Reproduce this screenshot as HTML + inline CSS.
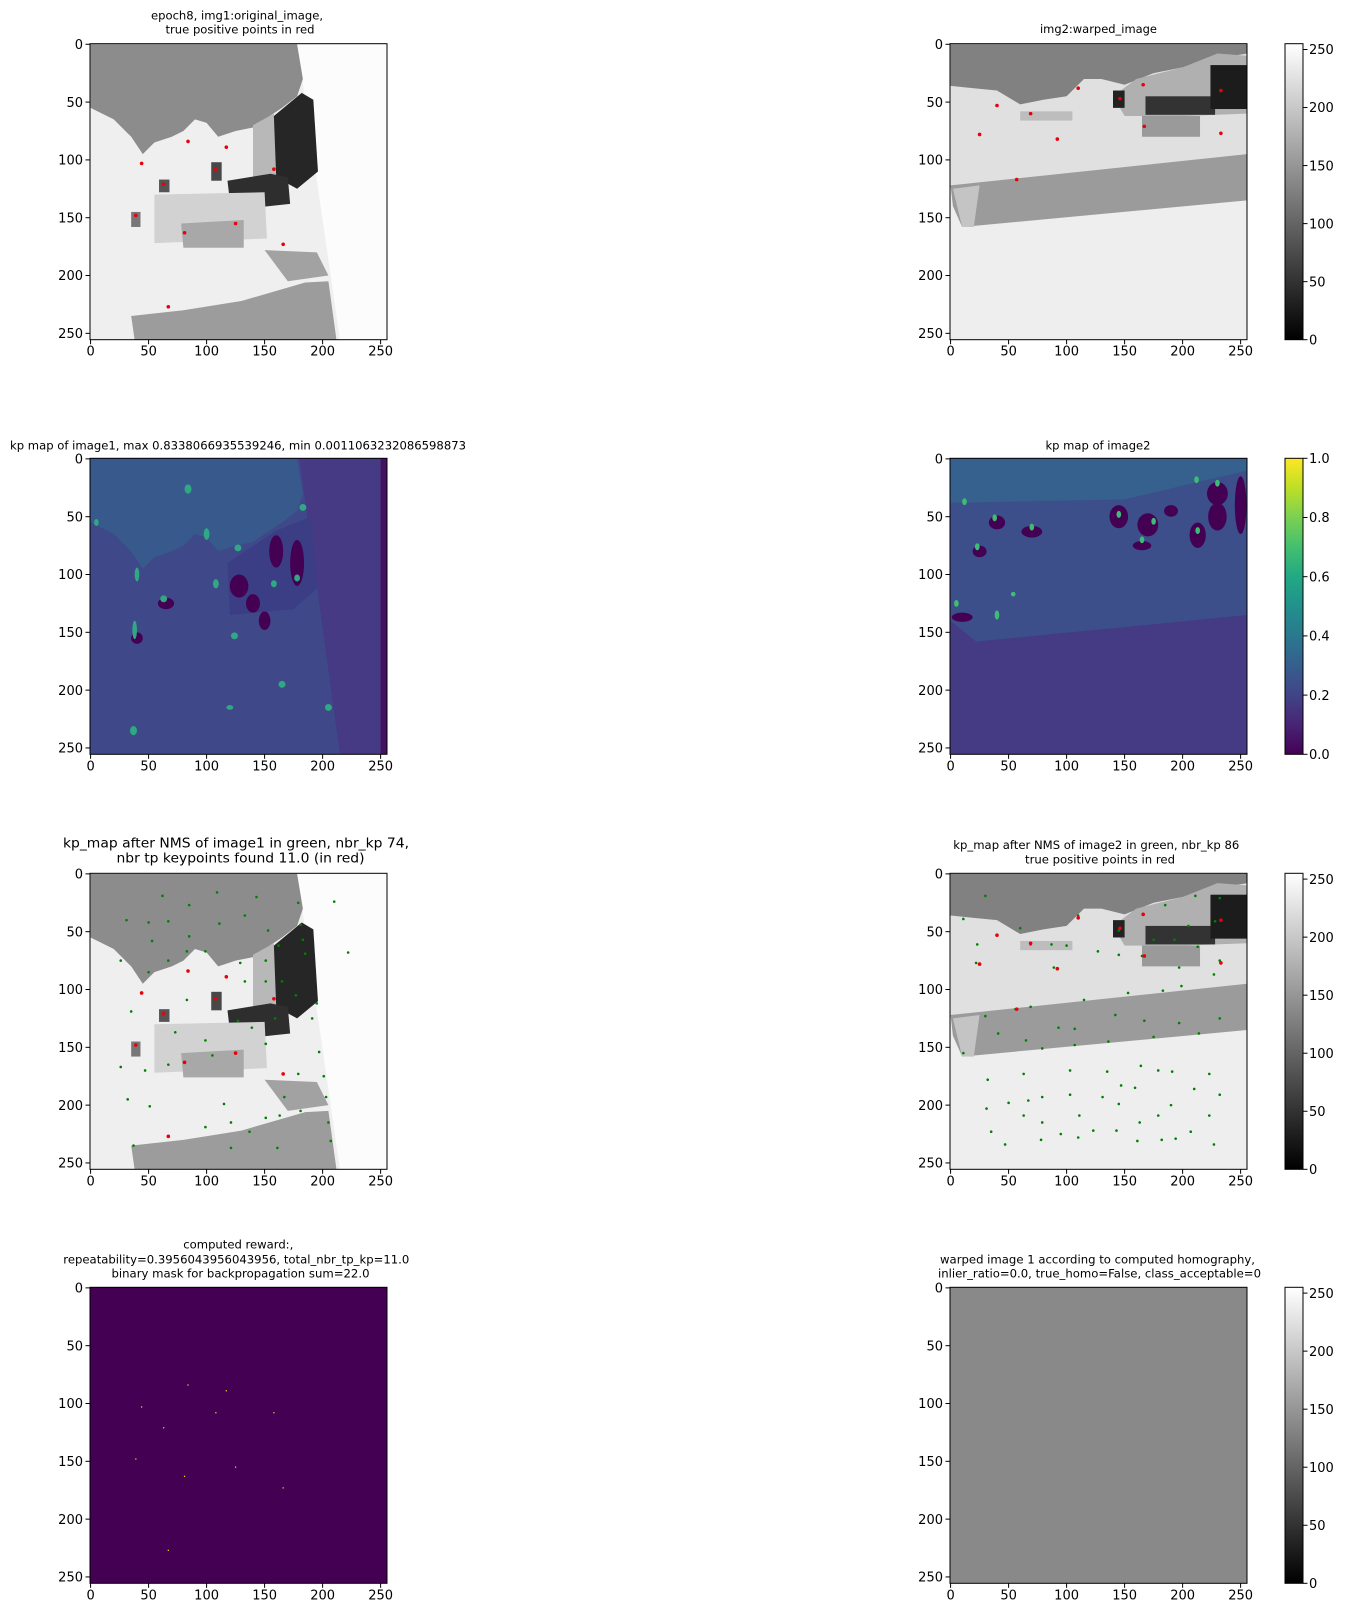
<!DOCTYPE html>
<html><head><meta charset="utf-8"><style>
html,body{margin:0;padding:0;background:#fff;}
svg text{font-family:"DejaVu Sans","Liberation Sans",sans-serif;fill:#000;}
</style></head><body>
<svg id="fig" xmlns="http://www.w3.org/2000/svg" width="1345" height="1617" viewBox="0 0 1345 1617">
<defs>
<linearGradient id="grayGrad" x1="0" y1="1" x2="0" y2="0"><stop offset="0" stop-color="#000"/><stop offset="1" stop-color="#fff"/></linearGradient>
<linearGradient id="virGrad" x1="0" y1="1" x2="0" y2="0">
<stop offset="0" stop-color="#440154"/><stop offset="0.1" stop-color="#482475"/><stop offset="0.2" stop-color="#414487"/><stop offset="0.3" stop-color="#355f8d"/><stop offset="0.4" stop-color="#2a788e"/><stop offset="0.5" stop-color="#21918c"/><stop offset="0.6" stop-color="#22a884"/><stop offset="0.7" stop-color="#44bf70"/><stop offset="0.8" stop-color="#7ad151"/><stop offset="0.9" stop-color="#bddf26"/><stop offset="1" stop-color="#fde725"/></linearGradient>
<symbol id="scene1" viewBox="-0.5 -0.5 256 256" preserveAspectRatio="none">
<rect x="-0.5" y="-0.5" width="256" height="256" fill="#efefef"/>
<polygon points="178,-0.5 256,-0.5 256,256 215,256" fill="#fcfcfc"/>
<polygon points="0,0 178,0 183,30 178,45 165,55 150,65 140,72 125,75 110,80 100,68 90,65 80,75 70,80 55,85 45,95 35,80 20,65 0,55" fill="#8c8c8c"/>
<polygon points="140,70 158,60 162,118 140,120" fill="#b8b8b8"/>
<polygon points="158,62 182,42 192,48 196,110 178,125 160,115" fill="#262626"/>
<polygon points="118,118 155,112 170,115 172,138 135,142 120,135" fill="#2e2e2e"/>
<rect x="104" y="102" width="9" height="16" fill="#484848"/>
<rect x="59" y="117" width="9" height="11" fill="#555"/>
<rect x="35" y="145" width="8" height="13" fill="#777"/>
<polygon points="55,130 150,128 152,168 55,172" fill="#d2d2d2"/>
<polygon points="78,155 132,152 132,176 80,176" fill="#a8a8a8"/>
<polygon points="150,178 195,180 205,200 170,205" fill="#a2a2a2"/>
<polygon points="35,235 80,230 130,222 185,206 205,205 212,256 38,256" fill="#9c9c9c"/>
</symbol>
<symbol id="scene2" viewBox="-0.5 -0.5 256 256" preserveAspectRatio="none">
<rect x="-0.5" y="-0.5" width="256" height="256" fill="#eeeeee"/>
<polygon points="0,36 256,0 256,100 0,124" fill="#e0e0e0"/>
<polygon points="0,0 256,0 256,8 230,12 200,20 175,25 150,35 130,30 115,30 100,45 80,48 60,52 40,40 20,38 0,36" fill="#818181"/>
<polygon points="140,45 160,30 200,20 230,8 256,10 256,60 200,62 150,62" fill="#b0b0b0"/>
<rect x="168" y="45" width="60" height="16" fill="#333"/>
<rect x="224" y="18" width="32" height="38" fill="#1c1c1c"/>
<rect x="140" y="40" width="10" height="15" fill="#222"/>
<rect x="165" y="62" width="50" height="18" fill="#9a9a9a"/>
<rect x="60" y="58" width="45" height="8" fill="#bdbdbd"/>
<polygon points="0,122 256,95 256,135 10,158 2,140" fill="#9b9b9b"/>
<polygon points="2,125 25,122 20,158 10,158" fill="#c4c4c4"/>
</symbol>
<symbol id="scene3" viewBox="-0.5 -0.5 256 256" preserveAspectRatio="none">
<rect x="-0.5" y="-0.5" width="256" height="256" fill="#3f4889"/>
<polygon points="0,0 178,0 183,30 178,45 165,55 150,65 140,72 125,75 110,80 100,68 90,65 80,75 70,80 55,85 45,95 35,80 20,65 0,55" fill="#37598c"/>
<polygon points="180,-0.5 256,-0.5 256,256 215,256" fill="#453a83"/>
<rect x="250" y="-0.5" width="6" height="256" fill="#45125f"/>
<polygon points="118,90 160,62 190,50 195,112 175,130 120,135" fill="#3b3e85"/>
<g fill="#440154">
<ellipse cx="128" cy="110" rx="8" ry="10"/><ellipse cx="160" cy="80" rx="6" ry="14"/><ellipse cx="178" cy="90" rx="6" ry="20"/><ellipse cx="65" cy="125" rx="7" ry="5"/><ellipse cx="140" cy="125" rx="6" ry="8"/><ellipse cx="40" cy="155" rx="5" ry="5"/><ellipse cx="150" cy="140" rx="5" ry="8"/>
</g>
<g fill="#2fa883">
<ellipse cx="84" cy="26" rx="3" ry="4"/><ellipse cx="63" cy="121" rx="3" ry="3"/><ellipse cx="108" cy="108" rx="2.5" ry="4"/><ellipse cx="158" cy="108" rx="2.5" ry="3"/><ellipse cx="178" cy="103" rx="2.5" ry="3"/><ellipse cx="183" cy="42" rx="3" ry="3"/><ellipse cx="38" cy="148" rx="2" ry="8"/><ellipse cx="124" cy="153" rx="3" ry="3"/><ellipse cx="37" cy="235" rx="3" ry="4"/><ellipse cx="205" cy="215" rx="3" ry="3"/><ellipse cx="120" cy="215" rx="3" ry="2"/><ellipse cx="40" cy="100" rx="2" ry="6"/><ellipse cx="100" cy="65" rx="2.5" ry="5"/><ellipse cx="127" cy="77" rx="3" ry="3"/><ellipse cx="5" cy="55" rx="2" ry="3"/><ellipse cx="165" cy="195" rx="3" ry="3"/>
</g>
</symbol>
<symbol id="scene4" viewBox="-0.5 -0.5 256 256" preserveAspectRatio="none">
<rect x="-0.5" y="-0.5" width="256" height="256" fill="#443b84"/>
<polygon points="0,0 256,0 256,135 22,158 0,140" fill="#3c4f8a"/>
<polygon points="0,0 256,0 256,10 150,35 0,38" fill="#36608d"/>
<g fill="#440154">
<ellipse cx="40" cy="55" rx="7" ry="6"/><ellipse cx="70" cy="63" rx="9" ry="5"/><ellipse cx="25" cy="80" rx="6" ry="5"/><ellipse cx="145" cy="50" rx="8" ry="10"/><ellipse cx="170" cy="57" rx="9" ry="10"/><ellipse cx="213" cy="66" rx="7" ry="11"/><ellipse cx="230" cy="30" rx="9" ry="10"/><ellipse cx="230" cy="50" rx="8" ry="12"/><ellipse cx="250" cy="40" rx="5" ry="25"/><ellipse cx="190" cy="45" rx="6" ry="5"/><ellipse cx="165" cy="75" rx="8" ry="4"/><ellipse cx="10" cy="137" rx="9" ry="4"/>
</g>
<g fill="#3fbc73">
<ellipse cx="12" cy="37" rx="2" ry="3"/><ellipse cx="38" cy="51" rx="2" ry="3"/><ellipse cx="70" cy="59" rx="2" ry="3"/><ellipse cx="23" cy="76" rx="2" ry="3"/><ellipse cx="145" cy="48" rx="2" ry="3"/><ellipse cx="175" cy="54" rx="2" ry="3"/><ellipse cx="213" cy="62" rx="2" ry="3"/><ellipse cx="230" cy="21" rx="2" ry="3"/><ellipse cx="212" cy="18" rx="2" ry="3"/><ellipse cx="165" cy="70" rx="2" ry="3"/><ellipse cx="5" cy="125" rx="2" ry="3"/><ellipse cx="54" cy="117" rx="2" ry="2"/><ellipse cx="40" cy="135" rx="2" ry="4"/>
</g>
</symbol>
</defs>
<g id="layer"></g>
</svg>
<script>
// red true-positive points image1 [x,y]
const tp1X = [84,117,44,108,158,63,39,125,81,166,67];
const tp1Y = [84,89,103,108,108,121,148,155,163,173,227];
// red true-positive points image2
const tp2X = [110,166,146,233,40,69,25,92,167,233,57];
const tp2Y = [38,35,47,40,53,60,78,82,71,77,117];
// green NMS keypoints image1
const kp1X = [62,109,143,85,179,210,31,50,67,133,111,181,153,53,85,183,162,185,222,83,99,26,67,129,151,50,133,151,165,177,83,195,35,191,159,127,139,73,99,151,105,197,26,47,67,179,201,167,203,32,51,115,181,151,163,205,121,99,137,207,37,121,161];
const kp1Y = [19,16,20,27,25,24,40,42,41,36,43,44,49,58,54,57,62,69,68,67,67,75,75,77,75,85,93,93,93,105,109,112,119,125,125,127,133,137,144,147,157,154,167,170,165,173,175,193,193,195,201,199,205,211,209,215,215,219,223,231,235,237,237];
// green NMS keypoints image2
const kp2X = [30,11,60,23,87,100,127,145,110,185,211,232,205,228,145,175,193,213,165,232,197,89,69,22,227,199,183,153,115,142,69,56,30,232,167,197,93,107,41,214,175,136,65,107,79,11,164,103,135,179,191,63,223,32,147,159,210,131,103,79,232,31,50,67,145,190,63,111,179,223,79,163,35,95,123,143,207,47,78,110,161,182,194,227];
const kp2Y = [19,39,47,61,61,62,67,70,36,27,19,21,45,41,49,57,57,63,71,75,81,81,61,77,87,97,101,103,109,122,115,117,123,125,127,129,133,134,138,138,141,145,144,148,151,155,166,170,171,170,171,173,173,178,183,185,186,193,191,193,191,203,198,196,199,200,209,209,209,209,215,215,223,225,222,222,223,234,230,228,231,230,229,234];
const xTicks = [0,50,100,150,200,250];
const yTicks = [0,50,100,150,200,250];
const grayCbTicks = [0,50,100,150,200,250];
const virCbTicks = [0,0.2,0.4,0.6,0.8,1.0];
const virCbLabels = ['0.0','0.2','0.4','0.6','0.8','1.0'];

const NS='http://www.w3.org/2000/svg';
const layer=document.getElementById('layer');
const W=297, H=296;
function mk(tag,attrs,parent){const e=document.createElementNS(NS,tag);for(const k in attrs)e.setAttribute(k,attrs[k]);(parent||layer).appendChild(e);return e;}
function xScale(left,v){return left+(v+0.5)*W/256;}
function yScale(top,v){return top+(v+0.5)*H/256;}

function panel(name,left,top,scene,opts){
  const g=mk('g',{});
  
  
  if(scene==='mask'){
    const r=mk('rect',{x:left,y:top,width:W,height:H,fill:'#440154'},g);
    
    
  }else{
    const u=mk('use',{href:'#'+scene,x:left,y:top,width:W,height:H},g);
    
    
  }
  if(opts.green){
    const [gx,gy]=opts.green;
    for(let i=0;i<gx.length;i++){
      const c=mk('circle',{cx:xScale(left,gx[i]),cy:yScale(top,gy[i]),r:1.3,fill:'#008000'},g);
      
      
    }
  }
  if(opts.red){
    const [rx,ry]=opts.red;
    for(let i=0;i<rx.length;i++){
      const c=mk('circle',{cx:xScale(left,rx[i]),cy:yScale(top,ry[i]),r:1.8,fill:'#e8000b'},g);
      
      
    }
  }
  if(opts.mask){
    const [mx,my]=opts.mask;
    for(let i=0;i<mx.length;i++){
      const c=mk('rect',{x:xScale(left,mx[i])-0.6,y:yScale(top,my[i])-0.6,width:1.2,height:1.2,fill:'#fde725'},g);
      
      
    }
  }
  const fr=mk('rect',{x:left,y:top,width:W,height:H,fill:'none',stroke:'#000','stroke-width':1},g);
  
  
  xTicks.forEach(t=>{
    const x=xScale(left,t);
    mk('line',{x1:x,x2:x,y1:top+H,y2:top+H+4.5,stroke:'#000','stroke-width':1},g);
    const tx=mk('text',{x:x,y:top+H+16,'font-size':13,'text-anchor':'middle'},g);
    tx.textContent=t;
    
    
  });
  yTicks.forEach(t=>{
    const y=yScale(top,t);
    mk('line',{x1:left-4.5,x2:left,y1:y,y2:y,stroke:'#000','stroke-width':1},g);
    const tx=mk('text',{x:left-7,y:y+4.7,'font-size':13,'text-anchor':'end'},g);
    tx.textContent=t;
    
    
  });
  opts.title.forEach(([txt,cx,by,w,fs])=>{
    const tx=mk('text',{x:cx,y:by,'font-size':fs||11.5,'text-anchor':'middle',textLength:w,lengthAdjust:'spacingAndGlyphs'},g);
    tx.textContent=txt;
    
    
  });
}

function colorbar(name,top,kind){
  const x=1285,w=18;
  const g=mk('g',{});
  
  
  mk('rect',{x:x,y:top,width:w,height:H,fill:kind==='gray'?'url(#grayGrad)':'url(#virGrad)',stroke:'#000','stroke-width':1},g);
  const ticks=kind==='gray'?grayCbTicks:virCbTicks;
  const max=kind==='gray'?255:1;
  ticks.forEach((t,i)=>{
    const y=top+H-(t/max)*H;
    mk('line',{x1:x+w,x2:x+w+4.5,y1:y,y2:y,stroke:'#000','stroke-width':1},g);
    const tx=mk('text',{x:1309,y:y+4.7,'font-size':13},g);
    tx.textContent=kind==='gray'?t:virCbLabels[i];
    
    
  });
}

const LX=90, RX=950;
panel('original-image-panel',LX,43.7,'scene1',{red:[tp1X,tp1Y],title:[['epoch8, img1:original_image,',237,19.5,172],['true positive points in red',240,33.5,149]]});
panel('warped-image-panel',RX,43.7,'scene2',{red:[tp2X,tp2Y],title:[['img2:warped_image',1098.5,33,117]]});
colorbar('gray-colorbar-1',43.7,'gray');
panel('kp-map-image1-panel',LX,458.3,'scene3',{title:[['kp map of image1, max 0.8338066935539246, min 0.0011063232086598873',238,449.3,456]]});
panel('kp-map-image2-panel',RX,458.3,'scene4',{title:[['kp map of image2',1098,449.3,105]]});
colorbar('viridis-colorbar',458.3,'viridis');
panel('nms-image1-panel',LX,873.3,'scene1',{green:[kp1X,kp1Y],red:[tp1X,tp1Y],title:[['kp_map after NMS of image1 in green, nbr_kp 74,',236,847.3,346,13.5],['nbr tp keypoints found 11.0 (in red)',240.5,862.7,248,13.5]]});
panel('nms-image2-panel',RX,873.3,'scene2',{green:[kp2X,kp2Y],red:[tp2X,tp2Y],title:[['kp_map after NMS of image2 in green, nbr_kp 86',1096.3,849,286],['true positive points in red',1100,863.3,150]]});
colorbar('gray-colorbar-3',873.3,'gray');
panel('reward-mask-panel',LX,1287.3,'mask',{mask:[tp1X,tp1Y],title:[['computed reward:,',238.3,1248.3,110],['repeatability=0.3956043956043956, total_nbr_tp_kp=11.0',236.3,1263.3,346],['binary mask for backpropagation sum=22.0',240.5,1277.7,258]]});
panel('homography-warp-panel',RX,1287.3,'flat',{title:[['warped image 1 according to computed homography,',1097.5,1263.3,315],['inlier_ratio=0.0, true_homo=False, class_acceptable=0',1099.5,1277.7,323]]});
colorbar('gray-colorbar-4',1287.3,'gray');
</script>
<svg width="0" height="0" style="position:absolute"><defs><symbol id="flat" viewBox="0 0 10 10" preserveAspectRatio="none"><rect width="10" height="10" fill="#898989"/></symbol></defs></svg>
</body></html>
